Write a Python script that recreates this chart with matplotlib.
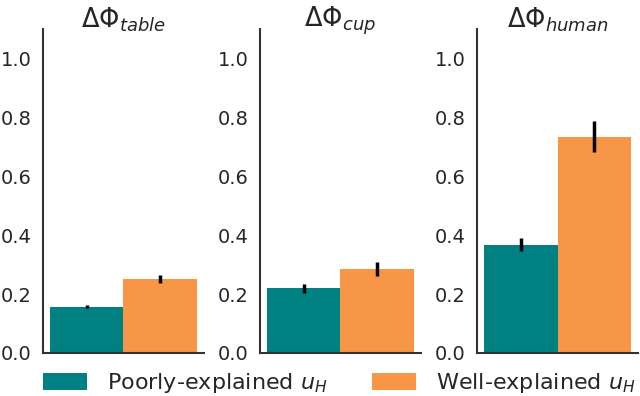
import matplotlib
matplotlib.use("Agg")
import matplotlib.pyplot as plt
import numpy as np

titles = [r"$\Delta\Phi_{table}$", r"$\Delta\Phi_{cup}$", r"$\Delta\Phi_{human}$"]
series = ["Poorly-explained $u_H$", "Well-explained $u_H$"]
poor_vals = [0.156, 0.219, 0.368]
poor_err = [0.005, 0.016, 0.023]
well_vals = [0.252, 0.284, 0.735]
well_err = [0.013, 0.024, 0.052]
colors = ["#008080", "#F79646"]
yticks = [0.0, 0.2, 0.4, 0.6, 0.8, 1.0]

plt.rcParams['font.family'] = ['DejaVu Sans']
plt.rcParams['mathtext.fontset'] = 'dejavusans'

fig, axes = plt.subplots(1, 3, figsize=(6.4, 3.96), dpi=100)
fig.subplots_adjust(left=0.067, right=0.997, bottom=0.109, top=0.926, wspace=0.348)

handles = []
for i, ax in enumerate(axes):
    b1 = ax.bar([-0.2], [poor_vals[i]], width=0.4, color=colors[0],
                yerr=[poor_err[i]], error_kw=dict(ecolor='black', elinewidth=2.5, capsize=0))
    b2 = ax.bar([0.2], [well_vals[i]], width=0.4, color=colors[1],
                yerr=[well_err[i]], error_kw=dict(ecolor='black', elinewidth=2.5, capsize=0))
    if i == 0:
        handles = [b1, b2]
    ax.set_ylim(0, 1.1)
    ax.set_yticks(yticks)
    ax.set_yticklabels([f"{t:.1f}" for t in yticks], fontsize=14, color='#262626')
    ax.set_xticks([])
    ax.tick_params(axis='y', length=0, pad=8)
    for s in ['top', 'right']:
        ax.spines[s].set_visible(False)
    for s in ['left', 'bottom']:
        ax.spines[s].set_color('#333333')
        ax.spines[s].set_linewidth(1.5)
    ax.text(0.5, 1.075, titles[i], transform=ax.transAxes, ha='center', va='top',
            fontsize=18.5, color='#262626')

fig.legend(handles, series, loc='center left', bbox_to_anchor=(0.067, 0.032), ncol=2,
           frameon=False, fontsize=16, handlelength=2.0, handleheight=0.75,
           handletextpad=0.9, columnspacing=1.98, borderpad=0, borderaxespad=0,
           labelcolor='#262626')

fig.savefig("out.png", dpi=100)
